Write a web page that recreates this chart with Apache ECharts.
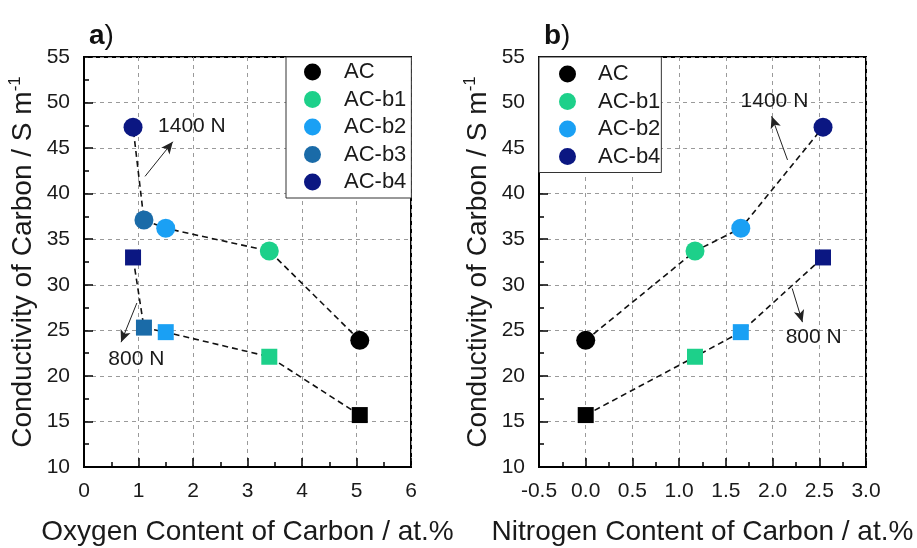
<!DOCTYPE html>
<html>
<head>
<meta charset="utf-8">
<script src="https://cdn.jsdelivr.net/npm/echarts@6/dist/echarts.min.js"></script>
<style>
  html, body { margin: 0; padding: 0; background: #fff; }
  #chart { width: 917px; height: 548px; }
</style>
</head>
<body>
<div id="chart"></div>
<script>
// Sample names and marker colours
const samples = ['AC', 'AC-b1', 'AC-b2', 'AC-b3', 'AC-b4'];
const sampleColors = ['#000000', '#1dd08a', '#1aa0f4', '#1a6ba8', '#0b1782'];

// Heteroatom content of each carbon (at.%); AC-b3 has no nitrogen value
const oxygenContent = [5.06, 3.40, 1.50, 1.10, 0.90];
const nitrogenContent = [0.00, 1.17, 1.66, null, 2.54];

// Conductivity (S m^-1) under the two compaction loads
const conductivity1400N = [23.9, 33.7, 36.2, 37.1, 47.3];
const conductivity800N = [15.7, 22.1, 24.8, 25.3, 33.0];

// Axis ticks
const oxygenTicks = { min: 0, max: 6, interval: 1 };
const nitrogenTicks = { min: -0.5, max: 3, interval: 0.5 };
const conductivityTicks = { min: 10, max: 55, interval: 5 };

const FONT = 'Liberation Sans, Arial, sans-serif';
const TXT = '#1a1a1a';

function xAxisFor(gridIndex, ticks, name, fmt) {
  return {
    type: 'value', gridIndex, min: ticks.min, max: ticks.max, interval: ticks.interval,
    name, nameLocation: 'middle', nameGap: 51,
    nameTextStyle: { fontFamily: FONT, fontSize: 28, color: TXT },
    axisLine: { show: true, onZero: false, lineStyle: { color: '#000', width: 2 } },
    axisTick: { show: true, inside: true, length: 9, lineStyle: { color: '#000', width: 1.5 } },
    minorTick: { show: true, splitNumber: 2, length: 5, lineStyle: { color: '#000', width: 1.5 } },
    axisLabel: { fontFamily: FONT, fontSize: 21, color: TXT, margin: 14, formatter: fmt },
    splitLine: { show: true, lineStyle: { color: '#9a9a9a', type: [4, 4], width: 1 } }
  };
}

function yAxisFor(gridIndex) {
  return {
    type: 'value', gridIndex,
    min: conductivityTicks.min, max: conductivityTicks.max, interval: conductivityTicks.interval,
    name: '{t|Conductivity of Carbon / S m}{s|-1}',
    nameLocation: 'middle', nameGap: 45,
    nameTextStyle: {
      fontFamily: FONT, color: TXT,
      rich: {
        t: { fontFamily: FONT, fontSize: 28, color: TXT, lineHeight: 32 },
        s: { fontFamily: FONT, fontSize: 17, color: TXT, lineHeight: 17, verticalAlign: 'top' }
      }
    },
    axisLine: { show: true, onZero: false, lineStyle: { color: '#000', width: 2 } },
    axisTick: { show: true, inside: true, length: 9, lineStyle: { color: '#000', width: 1.5 } },
    minorTick: { show: true, splitNumber: 2, length: 5, lineStyle: { color: '#000', width: 1.5 } },
    axisLabel: { fontFamily: FONT, fontSize: 21, color: TXT, margin: 14 },
    splitLine: { show: true, lineStyle: { color: '#9a9a9a', type: [4, 4], width: 1 } }
  };
}

// One scatter series per sample and panel: circle = 1400 N, square = 800 N
function markerSeries(panel, xs) {
  const out = [];
  samples.forEach((name, i) => {
    if (xs[i] == null) return;
    out.push({
      type: 'scatter', name, xAxisIndex: panel, yAxisIndex: panel, z: 5,
      symbol: 'circle', symbolSize: 19,
      itemStyle: { color: sampleColors[i], opacity: 1 },
      data: [
        { value: [xs[i], conductivity1400N[i]] },
        { value: [xs[i], conductivity800N[i]], symbol: 'rect', symbolSize: 16 }
      ]
    });
  });
  return out;
}

// Dashed guide lines through each load series, in sample order
function trendSeries(panel, xs, ys) {
  const pts = [];
  samples.forEach((_, i) => { if (xs[i] != null) pts.push([xs[i], ys[i]]); });
  return {
    type: 'line', xAxisIndex: panel, yAxisIndex: panel, z: 2, silent: true,
    symbol: 'none', data: pts,
    lineStyle: { color: '#111', width: 1.6, type: [6, 4] }
  };
}

// Load annotations: arrow plus "xxx N" label, in data coordinates
function annotation(panel, label, from, to, textAt) {
  return {
    type: 'scatter', xAxisIndex: panel, yAxisIndex: panel, z: 6, silent: true,
    symbolSize: 0, data: [textAt],
    itemStyle: { opacity: 1, color: TXT },
    label: { show: true, position: 'inside', formatter: label, fontFamily: FONT, fontSize: 21, color: TXT, opacity: 1 },
    markLine: {
      silent: true, symbol: ['none', 'arrow'], symbolSize: [8, 12],
      label: { show: false },
      lineStyle: { color: '#222', width: 1, type: 'solid', opacity: 1 },
      data: [[{ coord: from }, { coord: to }]]
    }
  };
}

const legendCommon = {
  orient: 'vertical', icon: 'circle', itemWidth: 17, itemHeight: 17, itemGap: 5.5,
  backgroundColor: '#fff', borderColor: '#333', borderWidth: 1, borderRadius: 0,
  selectedMode: false,
  textStyle: { fontFamily: FONT, fontSize: 22, color: TXT }
};

const titleRich = {
  b: { fontFamily: FONT, fontSize: 28, fontWeight: 'bold', color: '#111' },
  p: { fontFamily: FONT, fontSize: 28, fontWeight: 'normal', color: '#111' }
};

const gridCommon = {
  top: 57, width: 327, height: 410, show: true,
  borderColor: '#000', borderWidth: 2, backgroundColor: '#fff',
  outerBoundsMode: 'none', containLabel: false
};

const option = {
  backgroundColor: '#ffffff',
  animation: false,
  title: [
    { text: '{b|a}{p|)}', left: 84, top: 17, textStyle: { fontWeight: 'normal', rich: titleRich } },
    { text: '{b|b}{p|)}', left: 539, top: 17, textStyle: { fontWeight: 'normal', rich: titleRich } }
  ],
  grid: [
    Object.assign({ left: 84 }, gridCommon),
    Object.assign({ left: 539 }, gridCommon)
  ],
  xAxis: [
    xAxisFor(0, oxygenTicks, 'Oxygen Content of Carbon / at.%', v => String(v)),
    xAxisFor(1, nitrogenTicks, 'Nitrogen Content of Carbon / at.%', v => v.toFixed(1))
  ],
  yAxis: [yAxisFor(0), yAxisFor(1)],
  legend: [
    Object.assign({}, legendCommon, {
      left: 286, top: 57, padding: [4, 5, 5, 18], data: samples,
      textStyle: Object.assign({}, legendCommon.textStyle, { padding: [0, 0, 0, 18] })
    }),
    Object.assign({}, legendCommon, {
      left: 539, top: 57, padding: [6, 1, 5, 20], data: ['AC', 'AC-b1', 'AC-b2', 'AC-b4'],
      textStyle: Object.assign({}, legendCommon.textStyle, { padding: [0, 0, 0, 17] })
    })
  ],
  series: [
    trendSeries(0, oxygenContent, conductivity1400N),
    trendSeries(0, oxygenContent, conductivity800N),
    trendSeries(1, nitrogenContent, conductivity1400N),
    trendSeries(1, nitrogenContent, conductivity800N),
    ...markerSeries(0, oxygenContent),
    ...markerSeries(1, nitrogenContent),
    annotation(0, '1400 N', [1.12, 41.9], [1.63, 45.7], [1.98, 47.4]),
    annotation(0, '800 N', [0.97, 28.0], [0.68, 23.7], [0.96, 21.8]),
    annotation(1, '1400 N', [2.16, 43.7], [1.99, 48.5], [2.02, 50.2]),
    annotation(1, '800 N', [2.21, 29.6], [2.32, 25.9], [2.44, 24.2])
  ]
};

const chart = echarts.init(document.getElementById('chart'), null, { renderer: 'canvas' });
chart.setOption(option);
</script>
</body>
</html>
